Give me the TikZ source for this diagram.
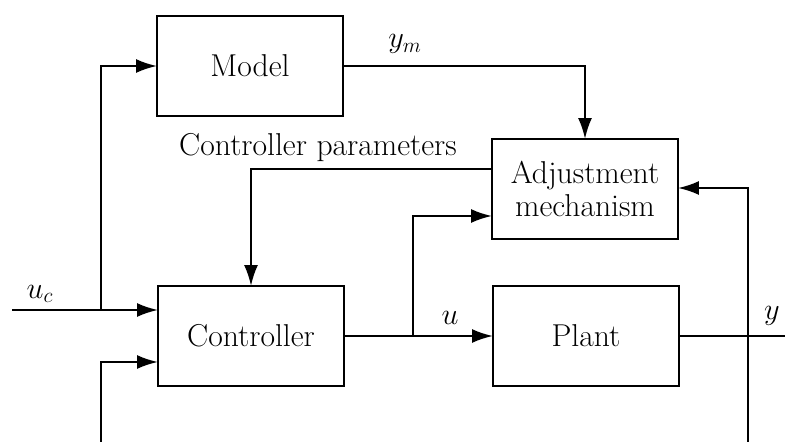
\documentclass[tikz,border=0pt]{standalone}
\usepackage{amsmath}
\usepackage{tikz}
\usetikzlibrary{positioning,calc,arrows.meta}

\begin{document}
\begin{tikzpicture}[x=0.02cm, y=-0.02cm,
                    box/.style={draw, line width=1.3pt, minimum width=3.72cm, minimum height=2cm, inner sep=0pt, outer sep=0pt},
                    sig/.style={line width=1.3pt},
                    arr/.style={sig, -{Latex[length=4.2mm,width=2.8mm]}},
                    every node/.style={font=\fontsize{18}{21}\selectfont}]
  \useasboundingbox (0,0) rectangle (785,442);
  % blocks
  \node[box] (model)  at (250,66)  {Model};
  \node[box, align=center] (adjust) at (585,189) {Adjustment\\[-2pt]mechanism};
  \node[box] (ctrl)   at (251,336) {Controller};
  \node[box] (plant)  at (586,336) {Plant};
  % free ends
  \coordinate (ucin) at (12,310);
  \coordinate (ucsplit) at (101,310);
  \coordinate (fbleft) at (101,442);
  \coordinate (fbright) at (748,442);
  \coordinate (yout) at (785,336);
  \coordinate (usplit) at (413,336);
  % reference input
  \draw[arr] (ucin) -- (ucin -| ctrl.west);
  \draw[arr] (ucsplit) |- (model.west);
  \node at (40,294) {$u_c$};
  % model output
  \draw[arr] (model.east) -| (adjust.north);
  \node at (405,44) {$y_m$};
  % controller parameters
  \draw[arr] ($(adjust.north west)!0.3!(adjust.south west)$) -| (ctrl.north);
  \node at (318,148) {Controller parameters};
  % control signal
  \draw[arr] (ctrl.east) -- (plant.west);
  \draw[arr] (usplit) |- ($(adjust.north west)!0.77!(adjust.south west)$);
  \node at (450,318) {$u$};
  % plant output and feedback
  \draw[sig] (plant.east) -- (yout);
  \node at (772,316) {$y$};
  \draw[arr] (fbright) |- ($(adjust.north east)!0.49!(adjust.south east)$);
  \draw[arr] (fbleft) |- ($(ctrl.north west)!0.76!(ctrl.south west)$);
\end{tikzpicture}
\end{document}
